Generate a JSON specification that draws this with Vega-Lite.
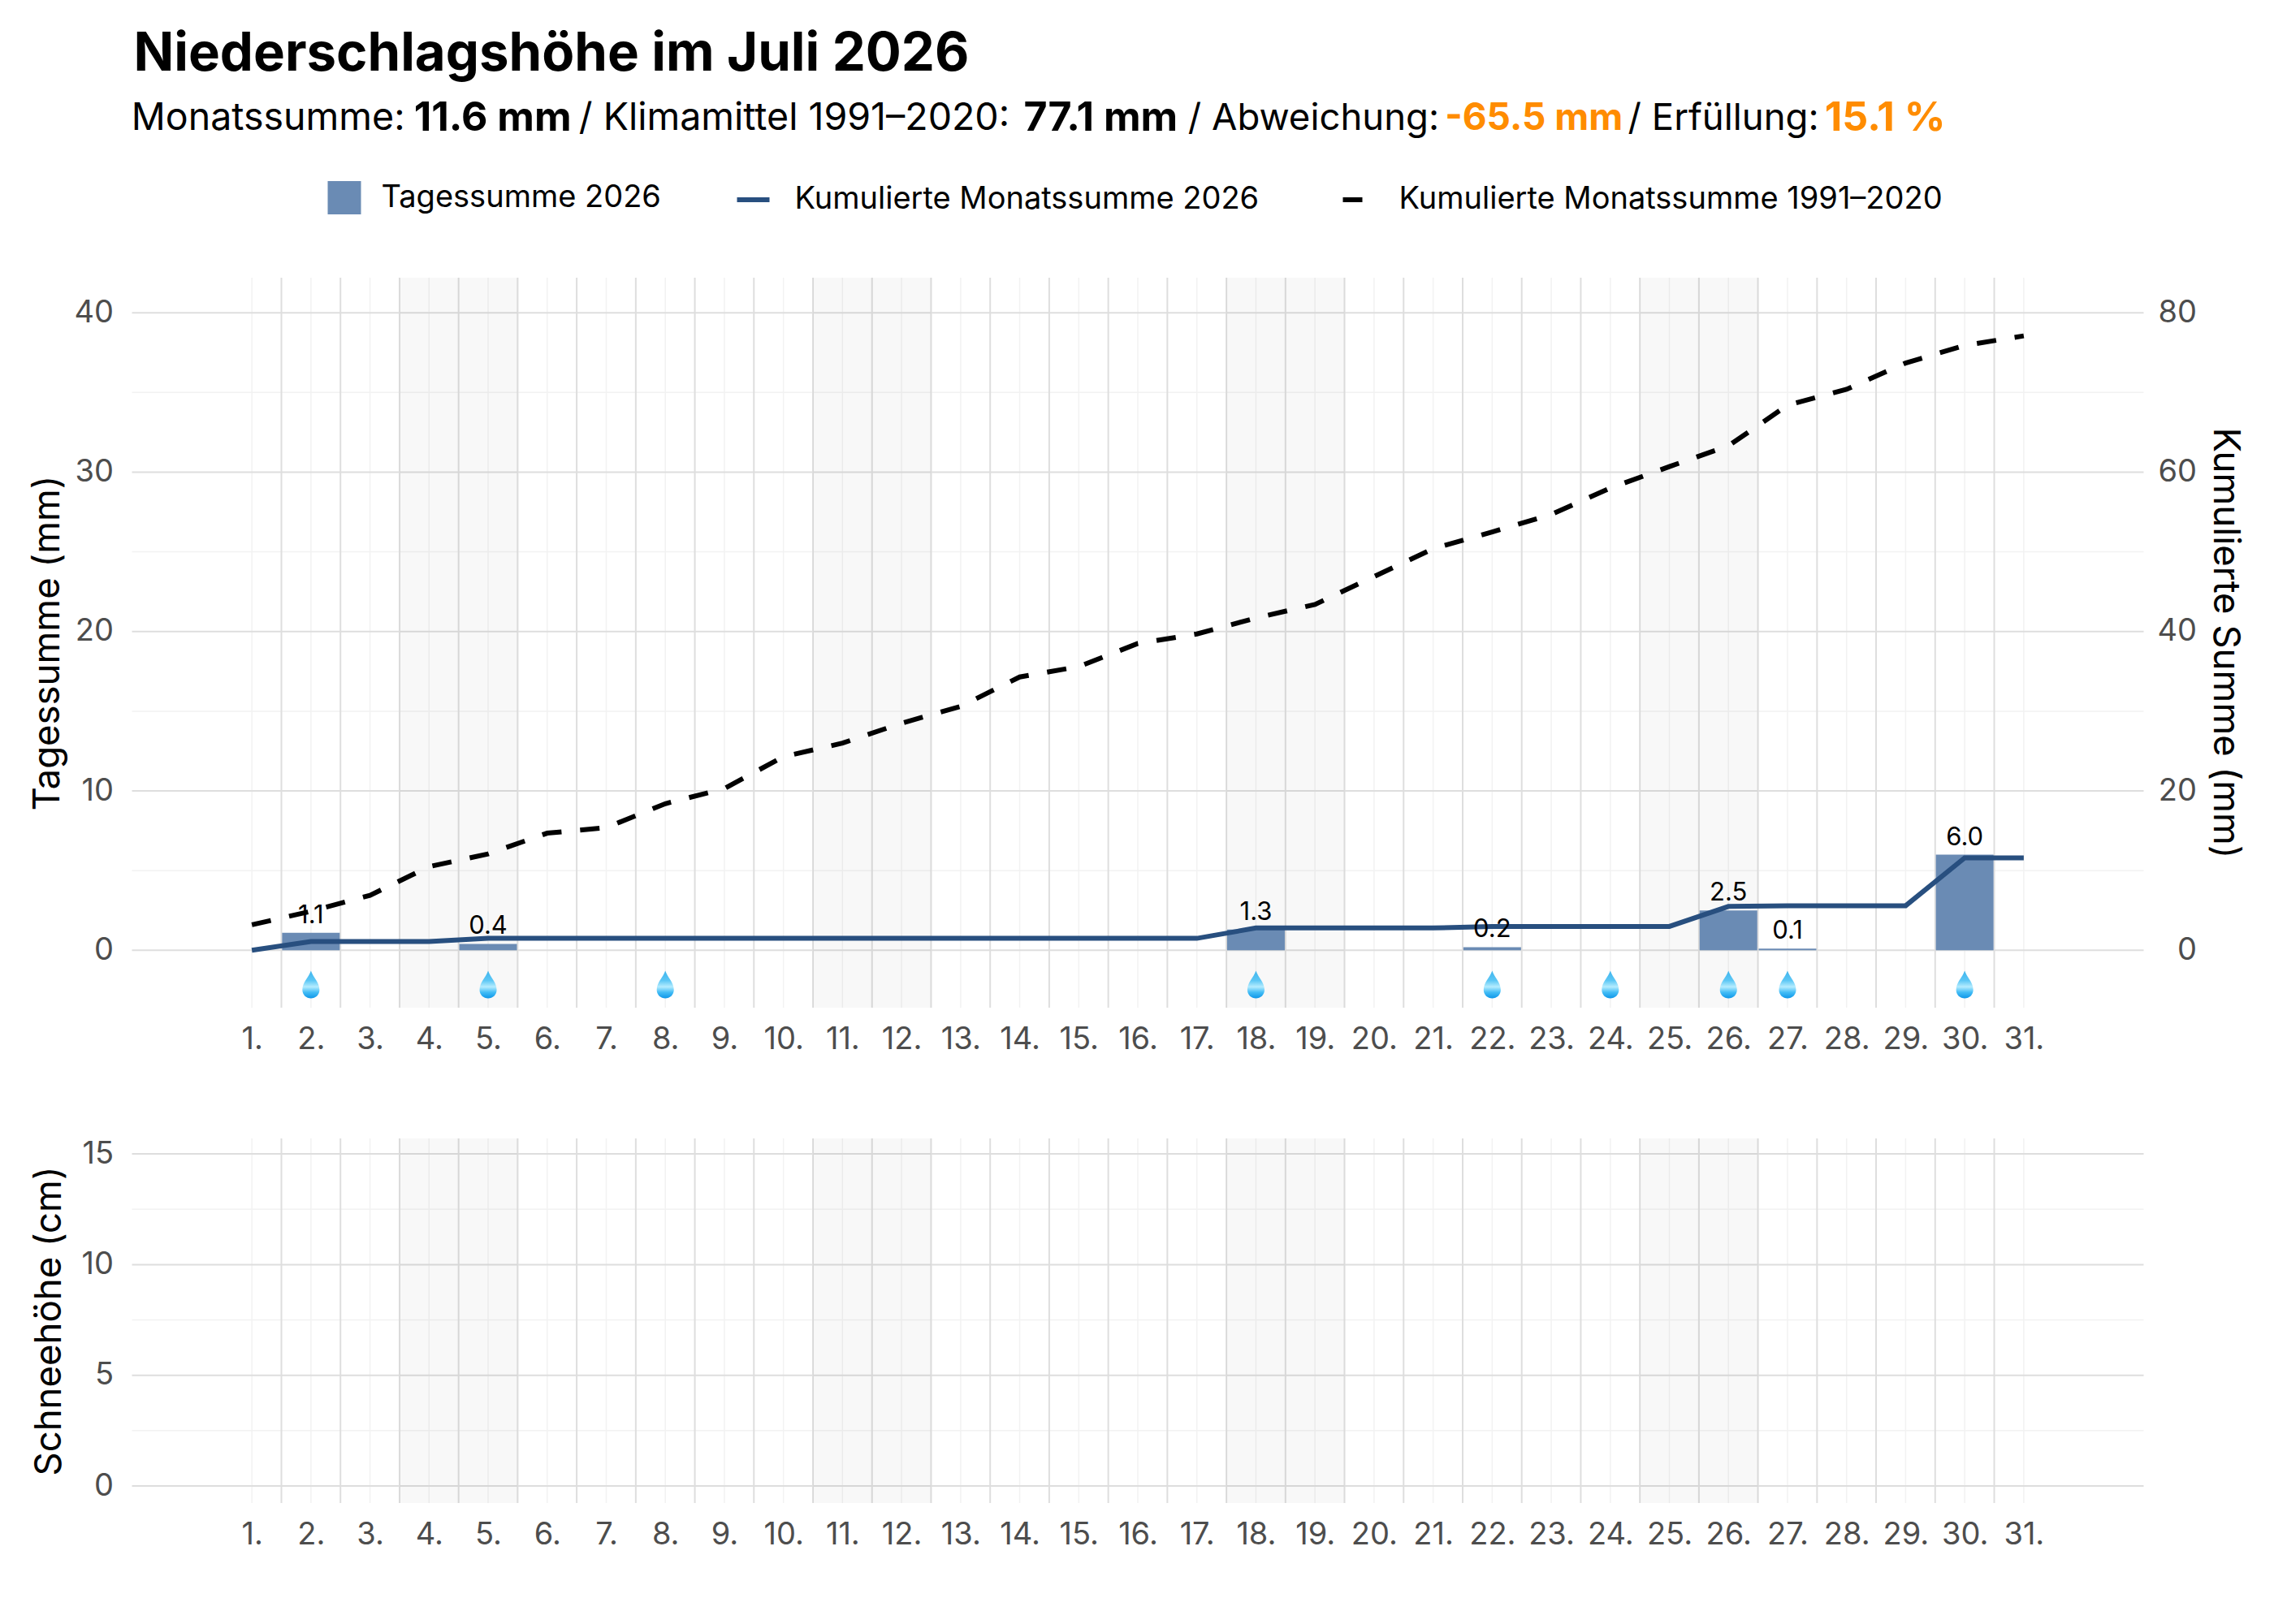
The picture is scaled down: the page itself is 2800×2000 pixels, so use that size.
{
  "$schema": "https://vega.github.io/schema/vega-lite/v6.json",
  "padding": {"left": 35.5, "top": 35, "right": 30, "bottom": 30},
  "background": "white",
  "config": {
    "view": {"stroke": null},
    "font": "Inter",
    "axis": {"domain": false, "ticks": false, "grid": false, "labelFont": "Inter", "labelFontSize": 38, "labelColor": "#4d4d4d", "titleFont": "Inter", "titleFontSize": 45.5, "titleFontWeight": "normal", "titleColor": "#000000"},
    "legend": {"labelFont": "Inter", "labelFontSize": 38, "labelColor": "#000000", "labelLimit": 900}
  },
  "datasets": {
    "days": [
      {"day": 1, "sum": 0, "cum_2026": 0, "cum_clim": 3.2, "drop": false},
      {"day": 2, "sum": 1.1, "cum_2026": 1.1, "cum_clim": 4.9, "drop": true},
      {"day": 3, "sum": 0, "cum_2026": 1.1, "cum_clim": 6.9, "drop": false},
      {"day": 4, "sum": 0, "cum_2026": 1.1, "cum_clim": 10.5, "drop": false},
      {"day": 5, "sum": 0.4, "cum_2026": 1.5, "cum_clim": 12.1, "drop": true},
      {"day": 6, "sum": 0, "cum_2026": 1.5, "cum_clim": 14.7, "drop": false},
      {"day": 7, "sum": 0, "cum_2026": 1.5, "cum_clim": 15.4, "drop": false},
      {"day": 8, "sum": 0, "cum_2026": 1.5, "cum_clim": 18.4, "drop": true},
      {"day": 9, "sum": 0, "cum_2026": 1.5, "cum_clim": 20.3, "drop": false},
      {"day": 10, "sum": 0, "cum_2026": 1.5, "cum_clim": 24.3, "drop": false},
      {"day": 11, "sum": 0, "cum_2026": 1.5, "cum_clim": 26.0, "drop": false},
      {"day": 12, "sum": 0, "cum_2026": 1.5, "cum_clim": 28.5, "drop": false},
      {"day": 13, "sum": 0, "cum_2026": 1.5, "cum_clim": 30.6, "drop": false},
      {"day": 14, "sum": 0, "cum_2026": 1.5, "cum_clim": 34.3, "drop": false},
      {"day": 15, "sum": 0, "cum_2026": 1.5, "cum_clim": 35.6, "drop": false},
      {"day": 16, "sum": 0, "cum_2026": 1.5, "cum_clim": 38.5, "drop": false},
      {"day": 17, "sum": 0, "cum_2026": 1.5, "cum_clim": 39.7, "drop": false},
      {"day": 18, "sum": 1.3, "cum_2026": 2.8, "cum_clim": 41.7, "drop": true},
      {"day": 19, "sum": 0, "cum_2026": 2.8, "cum_clim": 43.4, "drop": false},
      {"day": 20, "sum": 0, "cum_2026": 2.8, "cum_clim": 46.9, "drop": false},
      {"day": 21, "sum": 0, "cum_2026": 2.8, "cum_clim": 50.4, "drop": false},
      {"day": 22, "sum": 0.2, "cum_2026": 3.0, "cum_clim": 52.5, "drop": true},
      {"day": 23, "sum": 0, "cum_2026": 3.0, "cum_clim": 54.7, "drop": false},
      {"day": 24, "sum": 0, "cum_2026": 3.0, "cum_clim": 58.0, "drop": true},
      {"day": 25, "sum": 0, "cum_2026": 3.0, "cum_clim": 60.7, "drop": false},
      {"day": 26, "sum": 2.5, "cum_2026": 5.5, "cum_clim": 63.3, "drop": true},
      {"day": 27, "sum": 0.1, "cum_2026": 5.6, "cum_clim": 68.4, "drop": true},
      {"day": 28, "sum": 0, "cum_2026": 5.6, "cum_clim": 70.4, "drop": false},
      {"day": 29, "sum": 0, "cum_2026": 5.6, "cum_clim": 73.7, "drop": false},
      {"day": 30, "sum": 6.0, "cum_2026": 11.6, "cum_clim": 75.9, "drop": true},
      {"day": 31, "sum": 0, "cum_2026": 11.6, "cum_clim": 77.1, "drop": false}
    ],
    "day_edges": [
      {"x": 1.5}, {"x": 2.5}, {"x": 3.5}, {"x": 4.5}, {"x": 5.5}, {"x": 6.5}, {"x": 7.5}, {"x": 8.5}, {"x": 9.5}, {"x": 10.5},
      {"x": 11.5}, {"x": 12.5}, {"x": 13.5}, {"x": 14.5}, {"x": 15.5}, {"x": 16.5}, {"x": 17.5}, {"x": 18.5}, {"x": 19.5}, {"x": 20.5},
      {"x": 21.5}, {"x": 22.5}, {"x": 23.5}, {"x": 24.5}, {"x": 25.5}, {"x": 26.5}, {"x": 27.5}, {"x": 28.5}, {"x": 29.5}, {"x": 30.5}
    ],
    "weekends": [
      {"start": 3.5, "end": 5.5},
      {"start": 10.5, "end": 12.5},
      {"start": 17.5, "end": 19.5},
      {"start": 24.5, "end": 26.5}
    ],
    "rain_major": [{"v": 0}, {"v": 10}, {"v": 20}, {"v": 30}, {"v": 40}],
    "rain_minor": [{"v": 5}, {"v": 15}, {"v": 25}, {"v": 35}],
    "snow_major": [{"v": 0}, {"v": 5}, {"v": 10}, {"v": 15}],
    "snow_minor": [{"v": 2.5}, {"v": 7.5}, {"v": 12.5}]
  },
  "vconcat": [
    {
      "width": 2477,
      "height": 899,
      "title": {"text": "Niederschlagshöhe im Juli 2026", "anchor": "start", "frame": "group", "font": "Inter", "fontSize": 65.3, "fontWeight": "bold", "color": "#000000", "dx": 2, "offset": 20},
      "resolve": {"scale": {"y": "independent"}, "axis": {"x": "independent", "y": "independent"}},
      "layer": [
        {
          "data": {"name": "days"},
          "mark": {"type": "rule", "color": "#f2f2f2", "strokeWidth": 1.5},
          "encoding": {
            "x": {"field": "day", "type": "quantitative", "scale": {"domain": [-1.03, 33.03], "nice": false, "zero": false, "padding": 0}, "axis": {"title": null, "values": [1,2,3,4,5,6,7,8,9,10,11,12,13,14,15,16,17,18,19,20,21,22,23,24,25,26,27,28,29,30,31], "labelExpr": "datum.value + '.'", "labelPadding": 20, "labelFlush": false, "labelOverlap": false}}
          }
        },
        {
          "data": {"name": "rain_minor"},
          "mark": {"type": "rule", "color": "#f2f2f2", "strokeWidth": 1.5},
          "encoding": {"y": {"field": "v", "type": "quantitative", "scale": {"domain": [-3.6, 42.2], "nice": false, "zero": false}, "axis": null}}
        },
        {
          "data": {"name": "day_edges"},
          "mark": {"type": "rule", "color": "#dedede", "strokeWidth": 2},
          "encoding": {"x": {"field": "x", "type": "quantitative", "axis": null}}
        },
        {
          "data": {"name": "rain_major"},
          "mark": {"type": "rule", "color": "#dedede", "strokeWidth": 2},
          "encoding": {"y": {"field": "v", "type": "quantitative", "scale": {"domain": [-3.6, 42.2], "nice": false, "zero": false}, "axis": {"title": "Tagessumme (mm)", "values": [0, 10, 20, 30, 40], "labelPadding": 23, "titlePadding": 8.5}}}
        },
        {
          "data": {"name": "weekends"},
          "mark": {"type": "rect", "color": "#000000", "opacity": 0.028},
          "encoding": {"x": {"field": "start", "type": "quantitative", "axis": null}, "x2": {"field": "end"}}
        },
        {
          "data": {"name": "days"},
          "transform": [{"filter": "datum.sum > 0"}],
          "mark": {"type": "bar", "orient": "vertical", "width": 71},
          "encoding": {
            "x": {"field": "day", "type": "quantitative", "axis": null},
            "y": {"field": "sum", "type": "quantitative", "stack": null, "scale": {"domain": [-3.6, 42.2], "nice": false, "zero": false}, "axis": null},
            "fill": {"datum": "Tagessumme 2026", "type": "nominal", "scale": {"domain": ["Tagessumme 2026"], "range": ["#6a8bb4"]}, "legend": {"title": null, "orient": "none", "legendX": 241, "legendY": -119, "symbolType": "square", "symbolSize": 1681, "symbolStrokeWidth": 0, "symbolOpacity": 1, "labelOffset": 25}}
          }
        },
        {
          "data": {"name": "days"},
          "mark": {"type": "line", "strokeWidth": 6, "strokeCap": "butt", "strokeJoin": "miter"},
          "encoding": {
            "x": {"field": "day", "type": "quantitative", "axis": null},
            "y": {"field": "cum_2026", "type": "quantitative", "scale": {"domain": [-7.2, 84.4], "nice": false, "zero": false}, "axis": {"orient": "right", "title": "Kumulierte Summe (mm)", "titleAngle": 90, "values": [0, 20, 40, 60, 80], "labelAlign": "right", "labelPadding": 65, "titlePadding": 10.5}},
            "stroke": {"datum": "Kumulierte Monatssumme 2026", "type": "nominal", "scale": {"domain": ["Kumulierte Monatssumme 2026"], "range": ["#284f7f"]}, "legend": {"title": null, "orient": "none", "legendX": 742, "legendY": -119, "symbolType": "stroke", "symbolSize": 1600, "symbolStrokeWidth": 6, "labelOffset": 28}}
          }
        },
        {
          "data": {"name": "days"},
          "mark": {"type": "line", "stroke": "#000000", "strokeWidth": 6, "strokeCap": "butt"},
          "encoding": {
            "x": {"field": "day", "type": "quantitative", "axis": null},
            "y": {"field": "cum_clim", "type": "quantitative", "scale": {"domain": [-7.2, 84.4], "nice": false, "zero": false}, "axis": null},
            "strokeDash": {"datum": "Kumulierte Monatssumme 1991–2020", "type": "nominal", "scale": {"domain": ["Kumulierte Monatssumme 1991–2020"], "range": [[24, 23]]}, "legend": {"title": null, "orient": "none", "legendX": 1488, "legendY": -119, "symbolType": "stroke", "symbolSize": 1600, "symbolStrokeWidth": 6, "symbolStrokeColor": "#000000", "labelOffset": 26}}
          }
        },
        {
          "data": {"name": "days"},
          "transform": [{"filter": "datum.sum > 0"}],
          "mark": {"type": "text", "baseline": "bottom", "dy": -5, "fontSize": 31, "font": "Inter", "color": "#000000"},
          "encoding": {
            "x": {"field": "day", "type": "quantitative", "axis": null},
            "y": {"field": "sum", "type": "quantitative", "scale": {"domain": [-3.6, 42.2], "nice": false, "zero": false}, "axis": null},
            "text": {"field": "sum", "type": "quantitative", "format": ".1f"}
          }
        },
        {
          "data": {"name": "days"},
          "transform": [{"filter": "datum.drop"}],
          "mark": {
            "type": "point",
            "filled": true,
            "shape": "M0,-1 C0.15,-0.55 0.62,-0.15 0.62,0.38 C0.62,0.75 0.33,1 0,1 C-0.33,1 -0.62,0.75 -0.62,0.38 C-0.62,-0.15 -0.15,-0.55 0,-1 Z",
            "size": 1156,
            "opacity": 1,
            "strokeWidth": 0,
            "fill": {"gradient": "linear", "x1": 0, "y1": 0, "x2": 0, "y2": 1, "stops": [{"offset": 0, "color": "#3fb5ee"}, {"offset": 0.35, "color": "#5cc7f5"}, {"offset": 0.58, "color": "#b5ecfe"}, {"offset": 0.78, "color": "#43bdf6"}, {"offset": 1, "color": "#0e96e8"}]}
          },
          "encoding": {
            "x": {"field": "day", "type": "quantitative", "axis": null},
            "y": {"datum": -2.15, "type": "quantitative", "scale": {"domain": [-3.6, 42.2], "nice": false, "zero": false}, "axis": null}
          }
        },
        {
          "data": {"values": [{}]},
          "layer": [
            {"mark": {"type": "text", "align": "left", "baseline": "middle", "fontSize": 46.5, "font": "Inter", "color": "#000000", "text": "Monatssumme:"}, "encoding": {"x": {"datum": -1.04, "type": "quantitative", "axis": null}}},
            {"mark": {"type": "text", "align": "left", "baseline": "middle", "fontSize": 50, "font": "Inter", "fontWeight": "bold", "color": "#000000", "text": "11.6 mm"}, "encoding": {"x": {"datum": 3.744, "type": "quantitative", "axis": null}}},
            {"mark": {"type": "text", "align": "left", "baseline": "middle", "fontSize": 46.5, "font": "Inter", "color": "#000000", "text": "/ Klimamittel 1991–2020:"}, "encoding": {"x": {"datum": 6.537, "type": "quantitative", "axis": null}}},
            {"mark": {"type": "text", "align": "left", "baseline": "middle", "fontSize": 50, "font": "Inter", "fontWeight": "bold", "color": "#000000", "text": "77.1 mm"}, "encoding": {"x": {"datum": 14.067, "type": "quantitative", "axis": null}}},
            {"mark": {"type": "text", "align": "left", "baseline": "middle", "fontSize": 45.5, "font": "Inter", "color": "#000000", "text": "/ Abweichung:"}, "encoding": {"x": {"datum": 16.85, "type": "quantitative", "axis": null}}},
            {"mark": {"type": "text", "align": "left", "baseline": "middle", "fontSize": 46, "font": "Inter", "fontWeight": "bold", "color": "#ff8c00", "text": "-65.5 mm"}, "encoding": {"x": {"datum": 21.2, "type": "quantitative", "axis": null}}},
            {"mark": {"type": "text", "align": "left", "baseline": "middle", "fontSize": 45.5, "font": "Inter", "color": "#000000", "text": "/ Erfüllung:"}, "encoding": {"x": {"datum": 24.3, "type": "quantitative", "axis": null}}},
            {"mark": {"type": "text", "align": "left", "baseline": "middle", "fontSize": 50, "font": "Inter", "fontWeight": "bold", "color": "#ff8c00", "text": "15.1 %"}, "encoding": {"x": {"datum": 27.63, "type": "quantitative", "axis": null}}}
          ],
          "encoding": {
            "y": {"datum": 52.2, "type": "quantitative", "scale": {"domain": [-3.6, 42.2], "nice": false, "zero": false}, "axis": null}
          }
        }
      ]
    },
    {
      "width": 2477,
      "height": 449,
      "resolve": {"axis": {"x": "independent", "y": "independent"}},
      "layer": [
        {
          "data": {"name": "days"},
          "mark": {"type": "rule", "color": "#f2f2f2", "strokeWidth": 1.5},
          "encoding": {
            "x": {"field": "day", "type": "quantitative", "scale": {"domain": [-1.03, 33.03], "nice": false, "zero": false, "padding": 0}, "axis": {"title": null, "values": [1,2,3,4,5,6,7,8,9,10,11,12,13,14,15,16,17,18,19,20,21,22,23,24,25,26,27,28,29,30,31], "labelExpr": "datum.value + '.'", "labelPadding": 20, "labelFlush": false, "labelOverlap": false}}
          }
        },
        {
          "data": {"name": "snow_minor"},
          "mark": {"type": "rule", "color": "#f2f2f2", "strokeWidth": 1.5},
          "encoding": {"y": {"field": "v", "type": "quantitative", "scale": {"domain": [-0.77, 15.7], "nice": false, "zero": false}, "axis": null}}
        },
        {
          "data": {"name": "day_edges"},
          "mark": {"type": "rule", "color": "#dedede", "strokeWidth": 2},
          "encoding": {"x": {"field": "x", "type": "quantitative", "axis": null}}
        },
        {
          "data": {"name": "snow_major"},
          "mark": {"type": "rule", "color": "#dedede", "strokeWidth": 2},
          "encoding": {"y": {"field": "v", "type": "quantitative", "scale": {"domain": [-0.77, 15.7], "nice": false, "zero": false}, "axis": {"title": "Schneehöhe (cm)", "values": [0, 5, 10, 15], "labelPadding": 23, "titlePadding": 15.5}}}
        },
        {
          "data": {"name": "weekends"},
          "mark": {"type": "rect", "color": "#000000", "opacity": 0.028},
          "encoding": {"x": {"field": "start", "type": "quantitative", "axis": null}, "x2": {"field": "end"}}
        }
      ]
    }
  ],
  "spacing": 161,
  "bounds": "flush",
  "resolve": {"scale": {"fill": "independent", "stroke": "independent", "strokeDash": "independent"}}
}
